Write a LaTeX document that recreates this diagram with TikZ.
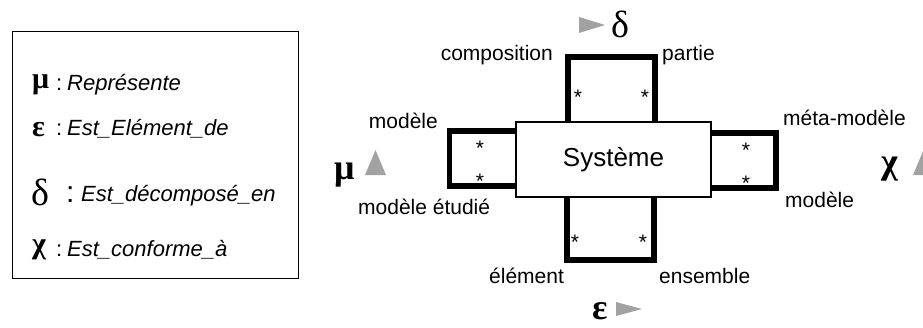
\documentclass[tikz,border=0pt]{standalone}
\usepackage{fontspec}
\setmainfont{Liberation Sans}
\newfontfamily\grk{Liberation Serif}
\definecolor{trigray}{RGB}{162,162,162}
\begin{document}
\begin{tikzpicture}[x=1pt,y=-1pt,
  lbl/.style={font=\fontsize{21}{25}\selectfont, inner sep=0pt},
  legtxt/.style={font=\fontsize{22}{26}\selectfont\itshape, inner sep=0pt, anchor=base west},
  legcolon/.style={font=\fontsize{22}{26}\selectfont, inner sep=0pt, anchor=base west},
  greekL/.style={font=\grk\bfseries\fontsize{30}{34}\selectfont, inner sep=0pt, anchor=base west},
  greekD/.style={font=\grk\bfseries\fontsize{36}{40}\selectfont, inner sep=0pt, anchor=base west},
  starlbl/.style={font=\fontsize{21}{24}\selectfont, inner sep=0pt, anchor=base},
  assoc/.style={line width=5.5pt, line join=miter},
  tri/.style={fill=trigray, draw=none},
]
\useasboundingbox (0,0) rectangle (923,327);
\clip (0,0) rectangle (923,327);

% ---------- legend ----------
\node[draw, line width=1.5pt, minimum width=286pt, minimum height=247pt, inner sep=0pt, anchor=north west] (legend) at (11.75,30.75) {};

\node[greekL] (lmu) at (32,88) {μ};
\node[legcolon] (lmuc) at (56,90) {:};
\node[legtxt] (lmut) at (67,90) {Représente};

\node[greekL] (leps) at (32,136) {ε};
\node[legcolon] (lepsc) at (56,135) {:};
\node[legtxt] (lepst) at (67,135) {Est\_Elément\_de};

\node[font=\grk\fontsize{38}{42}\selectfont, inner sep=0pt, anchor=base west] (ldel) at (31,205) {δ};
\node[font=\fontsize{30}{34}\selectfont, inner sep=0pt, anchor=base west] (ldelc) at (66,202) {:};
\node[legtxt] (ldelt) at (81,201) {Est\_décomposé\_en};

\node[greekL] (lchi) at (32,253) {χ};
\node[legcolon] (lchic) at (56,256) {:};
\node[legtxt] (lchit) at (67,256) {Est\_conforme\_à};

% ---------- diagram ----------
\node[draw, fill=white, line width=1.2pt, minimum width=195pt, minimum height=75pt, inner sep=0pt,
      font=\fontsize{26}{30}\selectfont] (sys) at (613.5,159.5) {Système};

\coordinate (t1) at (568,57);
\coordinate (t2) at (655,57);
\coordinate (b1) at (567,260);
\coordinate (b2) at (654,260);
\coordinate (l1) at (449.5,131);
\coordinate (l2) at (449.5,186);
\coordinate (r1) at (776,133);
\coordinate (r2) at (776,188);

\draw[assoc] (sys.north -| t1) -- (t1) -- (t2) -- (sys.north -| t2);
\draw[assoc] (sys.south -| b1) -- (b1) -- (b2) -- (sys.south -| b2);
\draw[assoc] (sys.west |- l1) -- (l1) -- (l2) -- (sys.west |- l2);
\draw[assoc] (sys.east |- r1) -- (r1) -- (r2) -- (sys.east |- r2);

% multiplicities
\node[starlbl] (st1) at (578,104) {*};
\node[starlbl] (st2) at (645,104) {*};
\node[starlbl] (sb1) at (575,249) {*};
\node[starlbl] (sb2) at (643,249) {*};
\node[starlbl] (sl1) at (480,155) {*};
\node[starlbl] (sl2) at (480,188) {*};
\node[starlbl] (sr1) at (746,157) {*};
\node[starlbl] (sr2) at (746,190) {*};

% role labels
\node[lbl, anchor=base east] (comp) at (553,60) {composition};
\node[lbl, anchor=base west] (part) at (662,60) {partie};
\node[lbl, anchor=base east] (modl) at (438,128) {modèle};
\node[lbl, anchor=base west] (mode) at (358,214) {modèle étudié};
\node[lbl, anchor=base west] (elem) at (489,283) {élément};
\node[lbl, anchor=base west] (ens) at (659,283) {ensemble};
\node[lbl, anchor=base west] (meta) at (783,125) {méta-modèle};
\node[lbl, anchor=base west] (modr) at (785,207) {modèle};

% relation names with direction triangles
\fill[tri] (579,17) -- (605,25) -- (579,33) -- cycle;
\node[font=\grk\fontsize{38}{42}\selectfont, inner sep=0pt, anchor=base west] (ddel) at (611,37) {δ};

\node[greekD] (dmu) at (334,179) {μ};
\fill[tri] (365,175) -- (375.5,150) -- (386,175) -- cycle;

\node[greekD] (deps) at (592,319) {ε};
\fill[tri] (616,302) -- (642,309) -- (616,316) -- cycle;

\node[greekD] (dchi) at (881,173) {χ};
\fill[tri] (913,175) -- (923.5,150) -- (934,175) -- cycle;
\end{tikzpicture}
\end{document}
